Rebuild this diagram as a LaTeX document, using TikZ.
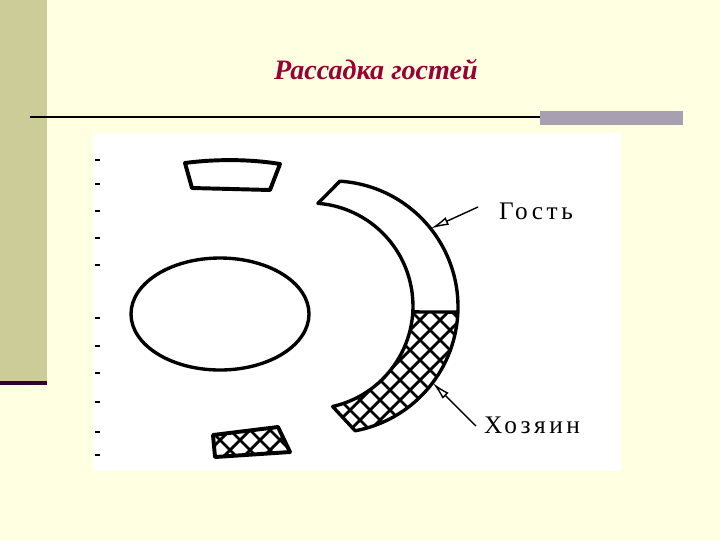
\documentclass[tikz,border=0pt]{standalone}
\usepackage{fontspec}
\setmainfont{Liberation Serif}
\newfontfamily\labelfont[LetterSpace=14]{Liberation Serif}
\usetikzlibrary{positioning}
\usetikzlibrary{arrows.meta}
\definecolor{slidebg}{RGB}{255,255,225}
\definecolor{stripe}{RGB}{204,204,153}
\definecolor{stripeline}{RGB}{51,0,51}
\definecolor{barcol}{RGB}{168,160,178}
\definecolor{titlered}{RGB}{153,0,51}
\tikzset{
    outline/.style = {line width=2.4pt,draw=black,line join=round},
    hatch/.style = {line width=2pt,black},
    pointer/.style = {-{Latex[open,length=13pt,width=6pt]},line width=1pt},
    seatlabel/.style = {font=\labelfont\fontsize{18}{18}\selectfont,inner sep=0pt},
    titletext/.style = {font=\fontsize{20}{24}\selectfont\bfseries\itshape,text=titlered},
    tickmark/.style = {line width=1.5pt,black}
}

\begin{document}
\begin{tikzpicture}[x=0.025cm,y=-0.025cm]
\fill[slidebg] (0,0) rectangle (720,540);
\useasboundingbox (0,0) rectangle (720,540);
% slide decoration
\fill[stripe] (0,0) rectangle (47,381);
\fill[stripeline] (0,381) rectangle (47,385);
\draw[line width=1.5pt] (30,117) -- (540,117);
\fill[barcol] (540,111) rectangle (683,125);
\node[titletext] (title) at (376,70) {Рассадка гостей};
\fill[white] (93,133) rectangle (621,471);
\foreach \y in {160,184,211,238,265,318,346,373,402,432,455}
  \draw[tickmark] (95,\y) -- (100,\y);
% table and chairs
\draw[outline] (220,314) ellipse [x radius=89, y radius=56];
\draw[outline,line width=2.8pt] (185,163) .. controls (215,159) and (250,159) .. (280,164) -- (270,190) -- (192,188) -- cycle;
\begin{scope}
  \clip (213,435) -- (278,427) -- (290,452) -- (215,457) -- cycle;
  \foreach \c in {600,620,...,780} \draw[hatch] (\c-400,400) -- (\c-500,500);
  \foreach \c in {-260,-240,...,-100} \draw[hatch] (\c+400,400) -- (\c+500,500);
\end{scope}
\draw[outline,line width=2.8pt] (213,435) -- (278,427) -- (290,452) -- (215,457) -- cycle;
% seat band
\coordinate (otop) at (339.9,181.2);
\coordinate (obot) at (355.2,430.8);
\coordinate (itop) at (317.9,203.3);
\coordinate (ibot) at (332.6,406.5);
\coordinate (odiv) at (457.9,312.1);
\coordinate (idiv) at (412.8,311.9);
\begin{scope}
  \clip (odiv) arc[start angle=2.3, end angle=79.4, radius=126] -- (ibot) arc[start angle=77.3, end angle=3.3, radius=103] -- cycle;
  \foreach \c in {600,620,...,920} \draw[hatch] (\c-300,300) -- (\c-500,500);
  \foreach \c in {-140,-120,...,180} \draw[hatch] (\c+300,300) -- (\c+500,500);
\end{scope}
\draw[outline] (otop) arc[start angle=-86.4, end angle=79.4, radius=126] -- (ibot) arc[start angle=77.3, end angle=-85.6, radius=103] -- cycle;
\draw[outline] (idiv) -- (odiv);
% labels
\node[seatlabel] (guest) at (536,211) {Гость};
\node[seatlabel] (host) at (532,425) {Хозяин};
\coordinate (guesttail) at (478,207);
\coordinate (guesttip) at (430.6,228.6);
\coordinate (hosttail) at (476,426);
\coordinate (hosttip) at (432.6,382.8);
\draw[pointer] (guesttail) -- (guesttip);
\draw[pointer] (hosttail) -- (hosttip);
\end{tikzpicture}
\end{document}
